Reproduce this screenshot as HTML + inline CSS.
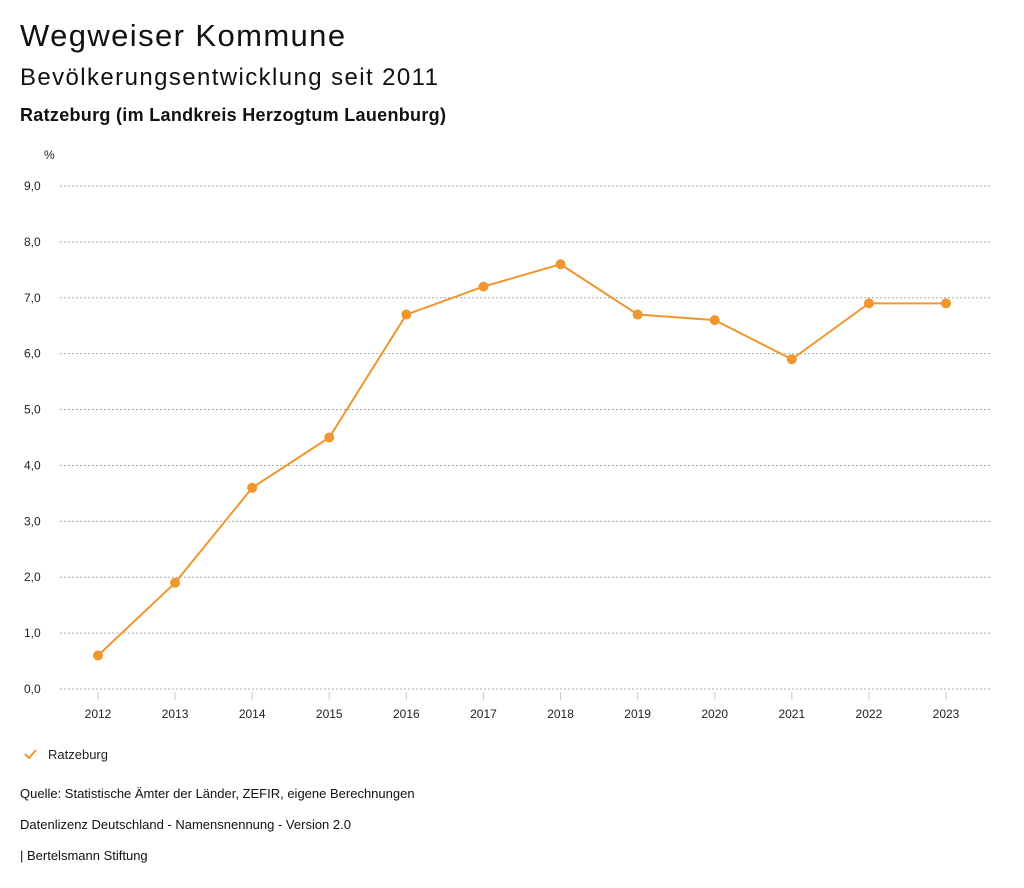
<!DOCTYPE html>
<html><head><meta charset="utf-8"><style>
body{margin:0;background:#fff;font-family:"Liberation Sans",sans-serif;color:#111;}
#wrap{position:relative;width:1024px;height:888px;overflow:hidden;}
.t{position:absolute;white-space:nowrap;}
</style></head><body><div id="wrap">
<div class="t" style="left:20px;top:18px;font-size:31px;letter-spacing:1.4px;">Wegweiser Kommune</div>
<div class="t" style="left:20px;top:64px;font-size:24px;letter-spacing:1.4px;">Bevölkerungsentwicklung seit 2011</div>
<div class="t" style="left:20px;top:105px;font-size:18px;font-weight:bold;letter-spacing:0.3px;">Ratzeburg (im Landkreis Herzogtum Lauenburg)</div>
<svg id="chart" width="1024" height="888" style="position:absolute;left:0;top:0"></svg>
<div class="t" style="left:20px;top:786px;font-size:13px;">Quelle: Statistische Ämter der Länder, ZEFIR, eigene Berechnungen</div>
<div class="t" style="left:20px;top:817px;font-size:13px;">Datenlizenz Deutschland - Namensnennung - Version 2.0</div>
<div class="t" style="left:20px;top:848px;font-size:13px;">| Bertelsmann Stiftung</div>
</div>
<script>
const years=["2012","2013","2014","2015","2016","2017","2018","2019","2020","2021","2022","2023"];
const values=[0.6,1.9,3.6,4.5,6.7,7.2,7.6,6.7,6.6,5.9,6.9,6.9];
const yTicks=[0,1,2,3,4,5,6,7,8,9];
const seriesName="Ratzeburg";
const NS="http://www.w3.org/2000/svg";
const svg=document.getElementById('chart');
const C="#f0962e";
function xS(i){return 98+i*(946-98)/11;}
function yS(v){return 689-v*(689-186)/9;}
function mk(tag,attrs,txt){const e=document.createElementNS(NS,tag);for(const k in attrs)e.setAttribute(k,attrs[k]);if(txt!==undefined)e.textContent=txt;svg.appendChild(e);return e;}
let e=mk('text',{x:44,y:159,'font-size':12,fill:'#222'},'%');


yTicks.forEach(v=>{
 const g=mk('line',{x1:60,x2:991,y1:yS(v),y2:yS(v),stroke:'#aaa','stroke-dasharray':'2,2'});
 
 
 const t=mk('text',{x:24,y:yS(v)+4,'font-size':12,fill:'#222'},v.toFixed(1).replace('.',','));
 
 
});
years.forEach((y,i)=>{
 const tk=mk('line',{x1:xS(i),x2:xS(i),y1:692,y2:700,stroke:'#ccc'});
 
 
 const t=mk('text',{x:xS(i),y:718,'font-size':12,fill:'#222','text-anchor':'middle'},y);
 
 
});
const l=mk('polyline',{points:values.map((v,i)=>xS(i)+','+yS(v)).join(' '),fill:'none',stroke:C,'stroke-width':2});


values.forEach((v,i)=>{
 const c=mk('circle',{cx:xS(i),cy:yS(v),r:5,fill:C});
 
 
});
const lg=mk('polyline',{points:'25,754 29,758 36,750',fill:'none',stroke:C,'stroke-width':2});


const lt=mk('text',{x:48,y:759,'font-size':13,fill:'#222'},seriesName);


</script></body></html>
